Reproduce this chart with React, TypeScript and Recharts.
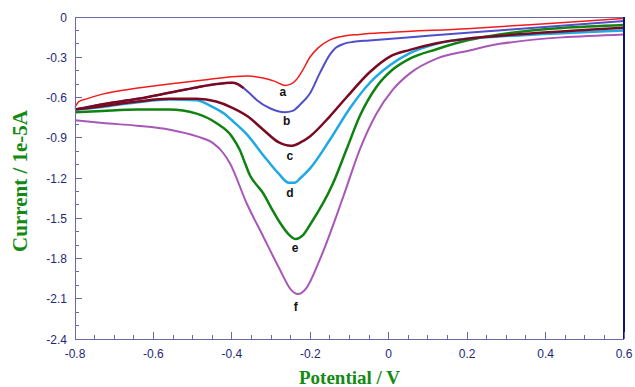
import { ComposedChart, Line, Scatter, XAxis, YAxis, Label } from "recharts";

type Pt = [number, number];

// potential (V), current (1e-5 A)
const curveA: Pt[] = [
  [-0.8, -0.67], [-0.79, -0.63], [-0.77, -0.61], [-0.73, -0.575], [-0.64, -0.53],
  [-0.56, -0.5], [-0.46, -0.465], [-0.4, -0.445], [-0.36, -0.44], [-0.32, -0.455],
  [-0.29, -0.48], [-0.265, -0.51], [-0.25, -0.5], [-0.235, -0.465], [-0.22, -0.4],
  [-0.201, -0.3], [-0.18, -0.23], [-0.15, -0.17], [-0.12, -0.145], [-0.074, -0.13],
  [0, -0.115], [0.2, -0.087], [0.4, -0.05], [0.6, -0.01],
];

const curveB: Pt[] = [
  [-0.8, -0.69], [-0.73, -0.65], [-0.64, -0.61], [-0.56, -0.565], [-0.49, -0.525],
  [-0.44, -0.5], [-0.4, -0.49], [-0.385, -0.5], [-0.37, -0.53], [-0.354, -0.57],
  [-0.336, -0.62], [-0.303, -0.68], [-0.265, -0.71], [-0.245, -0.7], [-0.225, -0.65],
  [-0.201, -0.57], [-0.176, -0.42], [-0.15, -0.28], [-0.135, -0.23], [-0.115, -0.2],
  [-0.09, -0.185], [-0.05, -0.175], [0.1, -0.14], [0.28, -0.1], [0.6, -0.03],
];

const curveC: Pt[] = [
  [-0.8, -0.69], [-0.73, -0.665], [-0.64, -0.63], [-0.56, -0.61], [-0.49, -0.61],
  [-0.44, -0.63], [-0.4, -0.675], [-0.36, -0.74], [-0.32, -0.84], [-0.28, -0.935],
  [-0.25, -0.96], [-0.225, -0.935], [-0.201, -0.89], [-0.15, -0.74], [-0.108, -0.6],
  [-0.048, -0.41], [0.003, -0.295], [0.054, -0.245], [0.122, -0.195], [0.206, -0.16],
  [0.283, -0.14], [0.6, -0.08],
];

const curveD: Pt[] = [
  [-0.8, -0.69], [-0.73, -0.67], [-0.64, -0.635], [-0.56, -0.615], [-0.49, -0.62],
  [-0.456, -0.66], [-0.42, -0.72], [-0.4, -0.77], [-0.36, -0.88], [-0.32, -1.03],
  [-0.28, -1.17], [-0.255, -1.235], [-0.24, -1.235], [-0.225, -1.2], [-0.201, -1.13],
  [-0.15, -0.915], [-0.099, -0.68], [-0.048, -0.49], [0.003, -0.36], [0.054, -0.27],
  [0.122, -0.2], [0.206, -0.16], [0.283, -0.145], [0.6, -0.1],
];

const curveE: Pt[] = [
  [-0.8, -0.71], [-0.73, -0.7], [-0.64, -0.69], [-0.56, -0.69], [-0.49, -0.72],
  [-0.44, -0.79], [-0.4, -0.89], [-0.38, -0.99], [-0.365, -1.1], [-0.354, -1.18],
  [-0.34, -1.24], [-0.321, -1.31], [-0.3, -1.42], [-0.278, -1.53], [-0.255, -1.62],
  [-0.237, -1.655], [-0.22, -1.63], [-0.201, -1.55], [-0.142, -1.24], [-0.108, -0.99],
  [-0.074, -0.74], [-0.031, -0.52], [0.011, -0.39], [0.054, -0.31], [0.122, -0.24],
  [0.206, -0.17], [0.283, -0.13], [0.6, -0.06],
];

const curveF: Pt[] = [
  [-0.8, -0.77], [-0.729, -0.79], [-0.642, -0.81], [-0.558, -0.84], [-0.489, -0.89],
  [-0.448, -0.94], [-0.423, -1.01], [-0.405, -1.09], [-0.362, -1.39], [-0.321, -1.63],
  [-0.278, -1.88], [-0.25, -2.03], [-0.232, -2.065], [-0.21, -2.02], [-0.176, -1.81],
  [-0.116, -1.34], [-0.074, -0.99], [-0.031, -0.72], [0.011, -0.54], [0.054, -0.42],
  [0.122, -0.31], [0.206, -0.25], [0.283, -0.2], [0.6, -0.13],
];

// left part of curve b is drawn dark red in the original
const bSplit = -0.37;

const letterNames = ["a", "b", "c", "d", "e", "f"];
const letterV = [-0.27, -0.26, -0.252, -0.252, -0.239, -0.237];
const letterI = [-0.56, -0.775, -1.035, -1.31, -1.72, -2.165];

const xMajor = [-0.8, -0.6, -0.4, -0.2, 0, 0.2, 0.4, 0.6];
const yMajor = [0, -0.3, -0.6, -0.9, -1.2, -1.5, -1.8, -2.1, -2.4];

const xTicks = xMajor.flatMap((m, k) =>
  k < xMajor.length - 1 ? [m, m + 0.05, m + 0.1, m + 0.15] : [m]
);
const yTicks = yMajor.flatMap((m, k) =>
  k < yMajor.length - 1 ? [m, m - 0.1, m - 0.2] : [m]
);

const isMajor = (list: number[], v: number) => list.some((m) => Math.abs(m - v) < 1e-6);
const fmt = (v: number) => (Math.abs(v) < 1e-9 ? "0" : v.toFixed(1));

const toRows = (pts: Pt[]) => pts.map(([v, i]) => ({ v, i }));
const letterRows = letterNames.map((name, k) => ({ name, v: letterV[k], i: letterI[k] }));

const AXIS = "#6a6aa2";
const TICK_TEXT = "#1e2878";
const TITLE = "#148a14";
const FONT = "'Liberation Sans', Arial, sans-serif";
const SERIF = "'Liberation Serif', 'Times New Roman', serif";

const bottomTick = (p: any) => {
  const { x, y, payload } = p;
  const major = isMajor(xMajor, payload.value);
  return (
    <g>
      <line x1={x} x2={x} y1={y} y2={y - (major ? 7 : 4)} stroke={AXIS} shapeRendering="crispEdges" />
      {major && (
        <text x={x} y={y + 19} textAnchor="middle" fontSize={12} fontFamily={FONT} fill={TICK_TEXT}>
          {fmt(payload.value)}
        </text>
      )}
    </g>
  );
};

const topTick = (p: any) => {
  const { x, y, payload } = p;
  const major = isMajor(xMajor, payload.value);
  return <line x1={x} x2={x} y1={y} y2={y + (major ? 7 : 4)} stroke={AXIS} shapeRendering="crispEdges" />;
};

const leftTick = (p: any) => {
  const { x, y, payload } = p;
  const major = isMajor(yMajor, payload.value);
  return (
    <g>
      <line x1={x} x2={x + (major ? 7 : 4)} y1={y} y2={y} stroke={AXIS} shapeRendering="crispEdges" />
      {major && (
        <text x={x - 8} y={y + 4.5} textAnchor="end" fontSize={12} fontFamily={FONT} fill={TICK_TEXT}>
          {fmt(payload.value)}
        </text>
      )}
    </g>
  );
};

const rightTick = (p: any) => {
  const { x, y, payload } = p;
  const major = isMajor(yMajor, payload.value);
  return <line x1={x} x2={x - (major ? 7 : 4)} y1={y} y2={y} stroke={AXIS} shapeRendering="crispEdges" />;
};

const letterShape = (p: any) => (
  <text
    x={p.cx}
    y={p.cy}
    textAnchor="middle"
    dominantBaseline="central"
    fontSize={12}
    fontWeight="bold"
    fontFamily={FONT}
    fill="#111"
  >
    {p.payload.name}
  </text>
);

const curves = [
  { name: "f", rows: toRows(curveF), color: "#a857b8", width: 2 },
  { name: "e", rows: toRows(curveE), color: "#0f820f", width: 2.5 },
  { name: "d", rows: toRows(curveD), color: "#1ea8e4", width: 2.5 },
  { name: "b", rows: toRows(curveB), color: "#4f4fcc", width: 2 },
  { name: "c", rows: toRows(curveC), color: "#7a0a22", width: 2.5 },
  { name: "bLeft", rows: toRows(curveB.filter(([v]) => v <= bSplit + 1e-9)), color: "#7a0a22", width: 2.5 },
  { name: "a", rows: toRows(curveA), color: "#f21b1b", width: 1.5 },
];

const axisLineStyle = { stroke: AXIS, strokeWidth: 1, shapeRendering: "crispEdges" };

export default function App() {
  return (
    <div style={{ position: "absolute", left: 0, top: 0, width: 635, height: 387, background: "#fff" }}>
      <ComposedChart width={635} height={387} margin={{ top: 16, right: 10, bottom: 0, left: 0 }}>
        <XAxis
          dataKey="v"
          type="number"
          domain={[-0.8, 0.6]}
          ticks={xTicks}
          interval={0}
          height={48}
          tickSize={0}
          tickMargin={0}
          tick={bottomTick}
          tickLine={false}
          axisLine={axisLineStyle}
        >
          <Label
            content={(p: any) => {
              const vb = p.viewBox;
              return (
                <text
                  x={vb.x + vb.width / 2}
                  y={vb.y + 45}
                  textAnchor="middle"
                  fontSize={19}
                  fontWeight="bold"
                  fontFamily={SERIF}
                  fill={TITLE}
                >
                  Potential / V
                </text>
              );
            }}
          />
        </XAxis>
        <XAxis
          xAxisId="top"
          orientation="top"
          dataKey="v"
          type="number"
          domain={[-0.8, 0.6]}
          ticks={xTicks}
          interval={0}
          height={1}
          tickSize={0}
          tickMargin={0}
          tick={topTick}
          tickLine={false}
          axisLine={axisLineStyle}
        />
        <YAxis
          dataKey="i"
          type="number"
          domain={[-2.4, 0]}
          ticks={yTicks}
          interval={0}
          width={75}
          tickSize={0}
          tickMargin={0}
          tick={leftTick}
          tickLine={false}
          axisLine={axisLineStyle}
        >
          <Label
            content={(p: any) => {
              const vb = p.viewBox;
              const cx = vb.x + 20;
              const cy = vb.y + vb.height / 2 + 3;
              return (
                <text
                  x={cx}
                  y={cy}
                  transform={`rotate(-90 ${cx} ${cy})`}
                  textAnchor="middle"
                  dominantBaseline="central"
                  fontSize={21}
                  fontWeight="bold"
                  fontFamily={SERIF}
                  fill={TITLE}
                >
                  Current / 1e-5A
                </text>
              );
            }}
          />
        </YAxis>
        <YAxis
          yAxisId="right"
          orientation="right"
          dataKey="i"
          type="number"
          domain={[-2.4, 0]}
          ticks={yTicks}
          interval={0}
          width={1}
          tickSize={0}
          tickMargin={0}
          tick={rightTick}
          tickLine={false}
          axisLine={{ stroke: "#10107e", strokeWidth: 2 }}
        />
        {curves.map((c) => (
          <Line
            key={c.name}
            name={c.name}
            data={c.rows}
            dataKey="i"
            type="monotone"
            stroke={c.color}
            strokeWidth={c.width}
            dot={false}
            activeDot={false}
            isAnimationActive={false}
          />
        ))}
        <Scatter data={letterRows} dataKey="i" shape={letterShape} isAnimationActive={false} />
      </ComposedChart>
    </div>
  );
}
